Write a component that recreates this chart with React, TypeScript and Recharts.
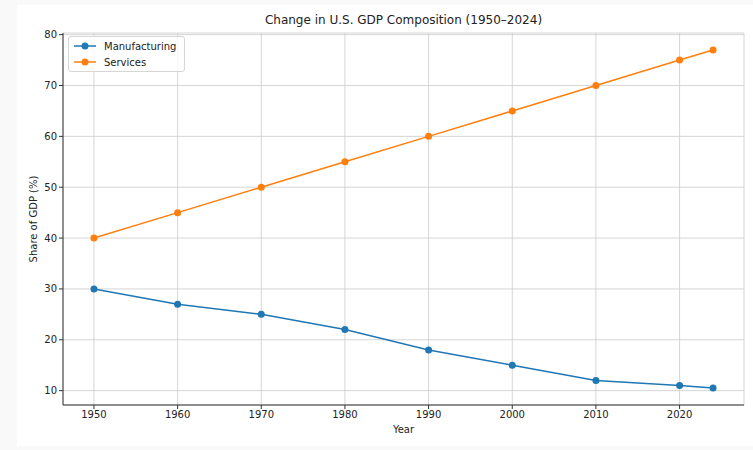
import React from "react";
import { LineChart, Line, XAxis, YAxis, CartesianGrid } from "recharts";

const years = [1950, 1960, 1970, 1980, 1990, 2000, 2010, 2020, 2024];
const manufacturing = [30, 27, 25, 22, 18, 15, 12, 11, 10.5];
const services = [40, 45, 50, 55, 60, 65, 70, 75, 77];
const xTicks = [1950, 1960, 1970, 1980, 1990, 2000, 2010, 2020];
const yTicks = [10, 20, 30, 40, 50, 60, 70, 80];
const seriesNames = ["Manufacturing", "Services"];
const seriesColors = ["#1f77b4", "#ff7f0e"];

const data = years.map((year, i) => ({
  year,
  Manufacturing: manufacturing[i],
  Services: services[i],
}));

const font = "'DejaVu Sans', sans-serif";
const tickStyle = { fontSize: 10, fill: "#222", fontFamily: font };

function LegendBox() {
  return (
    <div
      style={{
        position: "absolute",
        left: 68,
        top: 36,
        border: "1px solid #d6d6d6",
        borderRadius: 3,
        background: "rgba(255,255,255,0.8)",
        padding: "1px 8px 1px 5px",
        fontFamily: font,
        fontSize: 10,
        color: "#222",
      }}
    >
      {seriesNames.map((name, i) => (
        <div key={name} style={{ display: "flex", alignItems: "center", height: 16 }}>
          <svg width={22} height={10} style={{ marginRight: 8 }}>
            <line x1={0} y1={5} x2={22} y2={5} stroke={seriesColors[i]} strokeWidth={1.5} />
            <circle cx={11} cy={5} r={3.5} fill={seriesColors[i]} />
          </svg>
          <span>{name}</span>
        </div>
      ))}
    </div>
  );
}

export default function App() {
  return (
    <div
      style={{
        position: "absolute",
        left: 0,
        top: 0,
        width: 753,
        height: 450,
        background: "#f9f9f9",
      }}
    >
      <div
        style={{
          position: "absolute",
          left: 17,
          top: 5,
          width: 736,
          height: 441,
          background: "#fff",
        }}
      />
      <div
        style={{
          position: "absolute",
          left: 63,
          width: 681,
          top: 13,
          textAlign: "center",
          fontFamily: font,
          fontSize: 12,
          color: "#222",
        }}
      >
        Change in U.S. GDP Composition (1950–2024)
      </div>
      <div
        style={{
          position: "absolute",
          left: 63,
          width: 681,
          top: 424,
          textAlign: "center",
          fontFamily: font,
          fontSize: 10,
          color: "#222",
        }}
      >
        Year
      </div>
      <div
        style={{
          position: "absolute",
          left: 33,
          top: 219,
          transform: "translate(-50%, -50%) rotate(-90deg)",
          whiteSpace: "nowrap",
          fontFamily: font,
          fontSize: 10,
          color: "#222",
        }}
      >
        Share of GDP (%)
      </div>
      <div style={{ position: "absolute", left: 0, top: 0 }}>
        <LineChart
          width={753}
          height={450}
          data={data}
          margin={{ top: 33, right: 9, bottom: 15, left: 18 }}
        >
          <CartesianGrid stroke="#cccccc" strokeWidth={0.8} />
          <XAxis
            dataKey="year"
            type="number"
            domain={[1946.3, 2027.7]}
            ticks={xTicks}
            tick={tickStyle}
            tickSize={4}
            height={30}
            stroke="#333"
            tickLine={{ stroke: "#333" }}
          />
          <XAxis
            xAxisId="top"
            orientation="top"
            type="number"
            domain={[1946.3, 2027.7]}
            tick={false}
            tickLine={false}
            height={0}
            stroke="#333"
          />
          <YAxis
            type="number"
            domain={[7.175, 80.325]}
            ticks={yTicks}
            tick={tickStyle}
            tickSize={4}
            width={45}
            stroke="#333"
            tickLine={{ stroke: "#333" }}
          />
          <YAxis
            yAxisId="right"
            orientation="right"
            type="number"
            domain={[7.175, 80.325]}
            tick={false}
            tickLine={false}
            width={0}
            stroke="#333"
          />
          <Line
            dataKey="Manufacturing"
            stroke={seriesColors[0]}
            strokeWidth={1.5}
            dot={{ r: 3.5, fill: seriesColors[0], stroke: seriesColors[0], strokeWidth: 0 }}
            activeDot={false}
            isAnimationActive={false}
          />
          <Line
            dataKey="Services"
            stroke={seriesColors[1]}
            strokeWidth={1.5}
            dot={{ r: 3.5, fill: seriesColors[1], stroke: seriesColors[1], strokeWidth: 0 }}
            activeDot={false}
            isAnimationActive={false}
          />
        </LineChart>
      </div>
      <LegendBox />
    </div>
  );
}
